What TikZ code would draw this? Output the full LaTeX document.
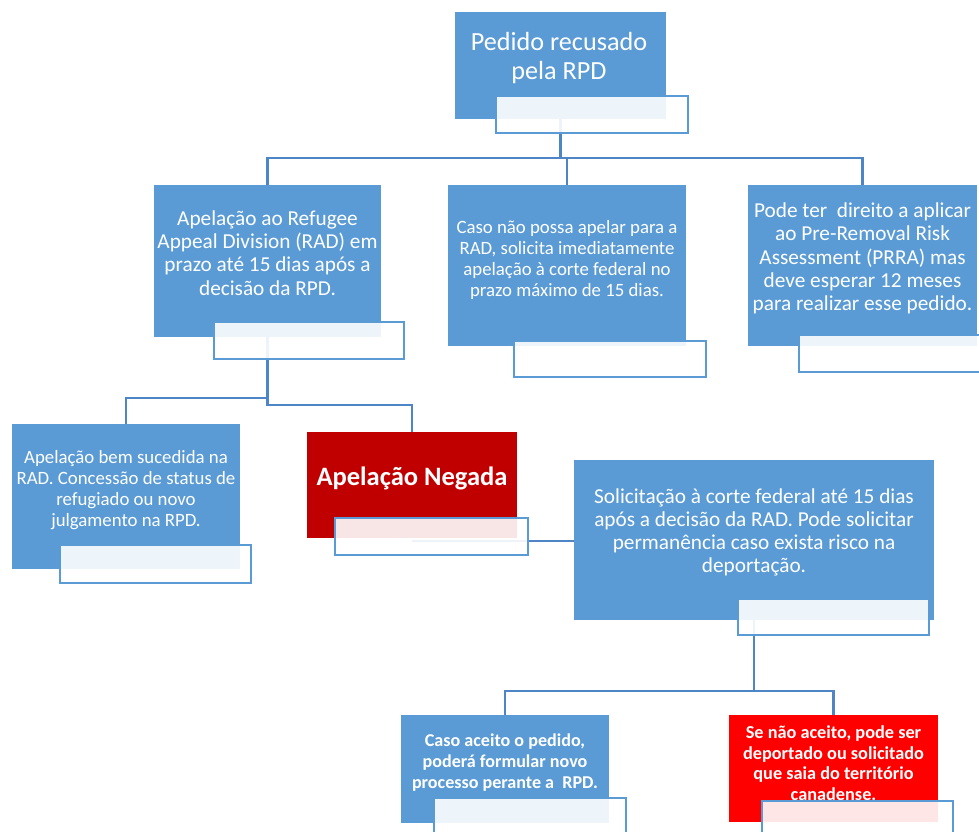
\documentclass[tikz,border=0pt]{standalone}
\usepackage{fontspec}
\setmainfont{Carlito}
\usetikzlibrary{fit,backgrounds}
\definecolor{boxblue}{RGB}{91,155,213}
\definecolor{lineblue}{RGB}{78,133,198}
\definecolor{darkred}{RGB}{192,0,0}
\definecolor{brightred}{RGB}{255,0,0}

\begin{document}
\begin{tikzpicture}[x=0.02cm, y=-0.02cm,
    box/.style={fill=boxblue, inner sep=0pt},
    lbl/.style={draw=boxblue, line width=1.6pt, fill=white, fill opacity=0.9, inner sep=0pt},
    txt/.style={text=white, align=center, inner sep=0pt},
    big/.style={font=\fontsize{12.1}{13.2}\selectfont},
    small/.style={font=\fontsize{10.7}{12}\selectfont},
    link/.style={draw=lineblue, line width=1.6pt}]
  \useasboundingbox (0,0) rectangle (979,831);
  \clip (0,0) rectangle (979,831);

  \node[box, fit={(455,12) (666,119)}] (root) {};
  \node[box, fit={(154,185) (381,337)}] (rad) {};
  \node[box, fit={(448,185) (686,346)}] (corte) {};
  \node[box, fit={(748,185) (977,346)}] (prra) {};
  \node[box, fit={(12,424) (240,569)}] (aceita) {};
  \node[box, fill=darkred, fit={(307,432) (517,538)}] (negada) {};
  \node[box, fit={(574,460) (934,620)}] (federal) {};
  \node[box, fit={(401,715) (609,823)}] (novo) {};
  \node[box, fill=brightred, fit={(729,715) (938,822)}] (deport) {};

  \node[txt, font=\fontsize{14.9}{17}\selectfont] (root-t) at (559,58) {Pedido recusado\\pela RPD};
  \node[txt, big] (rad-t) at (267.5,253) {Apelação ao Refugee\\Appeal Division (RAD) em\\prazo até 15 dias após a\\decisão da RPD.};
  \node[txt, small] (corte-t) at (567,260) {Caso não possa apelar para a\\RAD, solicita imediatamente\\apelação à corte federal no\\prazo máximo de 15 dias.};
  \node[txt, big] (prra-t) at (862.5,258.5) {Pode ter~~direito a aplicar\\ao Pre-Removal Risk\\Assessment (PRRA) mas\\deve esperar 12 meses\\para realizar esse pedido.};
  \node[txt, small] (aceita-t) at (126,490) {Apelação bem sucedida na\\RAD. Concessão de status de\\refugiado ou novo\\julgamento na RPD.};
  \node[txt, font=\fontsize{15.1}{17}\selectfont\bfseries] (negada-t) at (412,478) {Apelação Negada};
  \node[txt, big] (federal-t) at (754,532.5) {Solicitação à corte federal até 15 dias\\após a decisão da RAD. Pode solicitar\\permanência caso exista risco na\\deportação.};
  \node[txt, font=\fontsize{10.3}{11.8}\selectfont\bfseries] (novo-t) at (505,762.5) {Caso aceito o pedido,\\poderá formular novo\\processo perante a~~RPD.};
  \node[txt, font=\fontsize{10.4}{11.7}\selectfont\bfseries] (deport-t) at (833.5,763) {Se não aceito, pode ser\\deportado ou solicitado\\que saia do território\\canadense.};

  \node[lbl, fit={(496,96) (688,133)}] (root-l) {};
  \node[lbl, fit={(214,322) (404,359)}] (rad-l) {};
  \node[lbl, fit={(514,341) (706,377)}] (corte-l) {};
  \node[lbl, fit={(799,335) (991,372)}] (prra-l) {};
  \node[lbl, fit={(60,545) (251,583)}] (aceita-l) {};
  \node[lbl, fit={(335,518) (528,555)}] (negada-l) {};
  \node[lbl, fit={(738,599) (929,635)}] (federal-l) {};
  \node[lbl, fit={(434,798) (626,840)}] (novo-l) {};
  \node[lbl, fit={(762,801) (953,840)}] (deport-l) {};

  \begin{scope}[on background layer]
    \coordinate (bar1) at (560.5,158);
    \path[link] (root) -- (bar1);
    \path[link] (rad) |- (bar1) -| (prra);
    \path[link] (bar1 -| corte) -- (corte);
    \coordinate (bar2) at (rad |- 0,398);
    \path[link] (rad) -- (bar2) -| (aceita);
    \path[link] (bar2) -- ++(0,7) -| (negada);
    \coordinate (ef) at (negada |- 0,541);
    \path[link] (ef) -- (ef -| federal.west);
    \coordinate (bar3) at (federal |- 0,691);
    \path[link] (federal) -- (bar3);
    \path[link] (novo) |- (bar3) -| (deport);
  \end{scope}
\end{tikzpicture}
\end{document}
